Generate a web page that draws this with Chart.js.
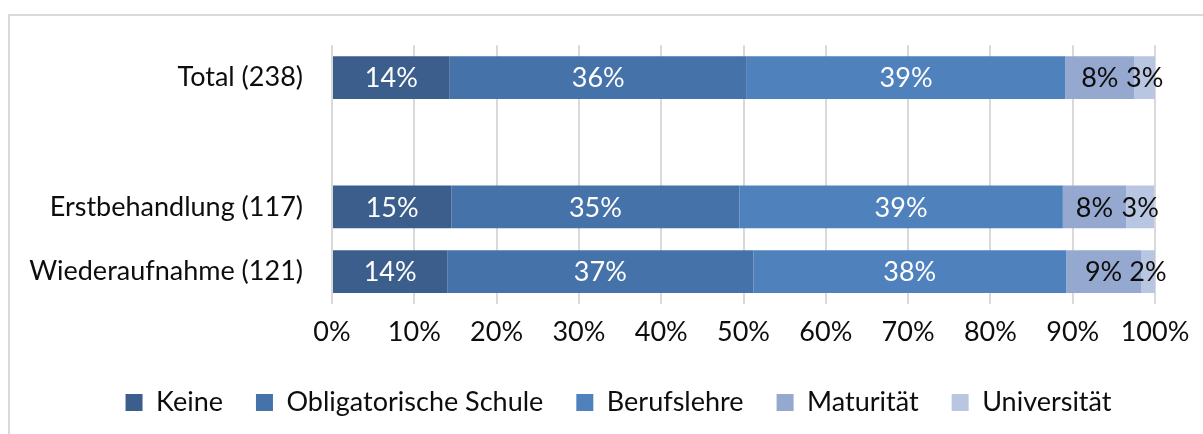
<!DOCTYPE html>
<html>
<head>
<meta charset="utf-8">
<script src="https://cdn.jsdelivr.net/npm/chart.js@4.4.1/dist/chart.umd.min.js"></script>
<style>
  html, body { margin: 0; padding: 0; background: #FFFFFF; }
  #frame { position: absolute; left: 8px; top: 14px; width: 1195px; height: 440px;
           border: 2px solid #D9D9D9; border-bottom: none; border-right: none; box-sizing: border-box; }
  #wrap { position: absolute; left: 0; top: 0; width: 1203px; height: 434px; }
</style>
</head>
<body>
<div id="frame"></div>
<div id="wrap"><canvas id="chart"></canvas></div>
<script>
/* 100% stacked bars: school education by treatment group */
const categories = ['Total (238)', '', 'Erstbehandlung (117)', 'Wiederaufnahme (121)'];
const seriesNames = ['Keine', 'Obligatorische Schule', 'Berufslehre', 'Maturität', 'Universität'];
const keine = [14.3, null, 14.5, 14.0];
const obligatorisch = [36.1, null, 35.0, 37.2];
const berufslehre = [38.7, null, 39.3, 38.0];
const maturitaet = [8.4, null, 7.7, 9.1];
const universitaet = [2.5, null, 3.4, 1.7];
const xTicks = [0, 10, 20, 30, 40, 50, 60, 70, 80, 90, 100];

const COLORS = ['#3B5E8C', '#4573A9', '#4F81BD', '#95A8D0', '#B9C6E2'];
const LABEL_COLORS = ['#FFFFFF', '#FFFFFF', '#FFFFFF', '#0D0D0D', '#0D0D0D'];
const INK = '#0D0D0D';
const GRID = '#D9D9D9';
const FONT = { family: "Lato, 'Open Sans', sans-serif", size: 27 };

const values = [keine, obligatorisch, berufslehre, maturitaet, universitaet];

// labels in the middle of each segment
const segLabels = {
  id: 'segLabels',
  afterDatasetsDraw(chart) {
    const ctx = chart.ctx;
    ctx.save();
    ctx.font = FONT.size + 'px ' + FONT.family;
    ctx.textAlign = 'center';
    ctx.textBaseline = 'middle';
    chart.data.datasets.forEach((ds, i) => {
      chart.getDatasetMeta(i).data.forEach((bar, j) => {
        const v = ds.data[j];
        if (v == null) return;
        const p = bar.getProps(['x', 'y', 'base'], true);
        ctx.fillStyle = LABEL_COLORS[i];
        ctx.fillText(Math.round(v) + '%', (p.x + p.base) / 2, p.y + 1);
      });
    });
    ctx.restore();
  }
};

// move the legend row to the right, like the original
const legendShift = {
  id: 'legendShift',
  afterLayout(chart) {
    chart.legend.left += 41;
    chart.legend.right += 41;
  }
};

new Chart(document.getElementById('chart'), {
  type: 'bar',
  data: {
    labels: categories,
    datasets: values.map((d, i) => ({
      label: seriesNames[i],
      data: d,
      backgroundColor: COLORS[i],
      borderWidth: 0,
      barPercentage: 0.66,
      categoryPercentage: 1
    }))
  },
  options: {
    indexAxis: 'y',
    responsive: true, maintainAspectRatio: false,
    animation: false,
    layout: { padding: { left: 0, right: 48, top: 44, bottom: 8 } },
    plugins: {
      tooltip: { enabled: false },
      legend: {
        position: 'bottom',
        labels: { font: FONT, color: INK, boxWidth: 17, boxHeight: 17, padding: 33 }
      }
    },
    scales: {
      x: {
        stacked: true, min: 0, max: 100,
        afterBuildTicks: s => { s.ticks = xTicks.map(v => ({ value: v })); },
        afterFit: s => { s.height = 52; },
        grid: { color: GRID, lineWidth: 2, drawTicks: false },
        border: { display: false },
        ticks: { font: FONT, color: INK, padding: 12, maxRotation: 0, callback: v => v + '%' }
      },
      y: {
        stacked: true,
        afterFit: s => { s.width = 332; },
        grid: { display: false, drawTicks: false },
        border: { display: false },
        ticks: { font: FONT, color: INK, padding: 29 }
      }
    }
  },
  plugins: [segLabels, legendShift]
});
</script>
</body>
</html>
